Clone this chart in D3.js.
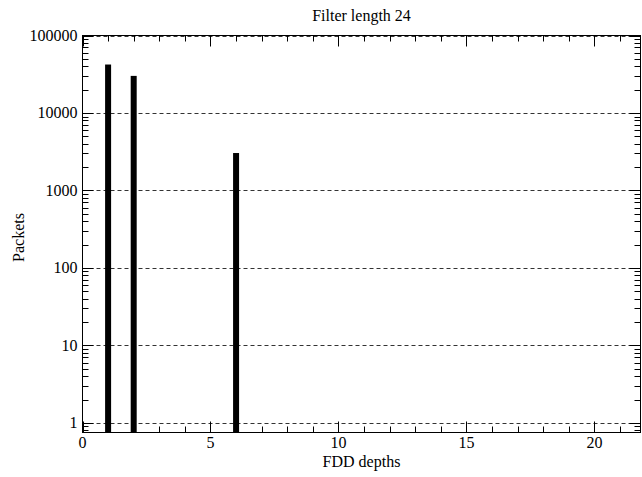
<!DOCTYPE html>
<html>
<head>
<meta charset="utf-8">
<script src="https://cdn.jsdelivr.net/npm/d3@7/dist/d3.min.js"></script>
<style>
  body { margin: 0; background: #fff; }
  svg text { font-family: "Liberation Serif", "Times New Roman", serif; font-size: 16px; fill: #000; }
</style>
</head>
<body>
<svg id="chart" width="642" height="477"></svg>
<script>
// FDD depth histogram, filter length 24
const depths = [1, 2, 6];
const packets = [42200, 30100, 3040];
const xTicks = [0, 5, 10, 15, 20];
const yTicks = [1, 10, 100, 1000, 10000, 100000];
const yTickLabels = ["1", "10", "100", "1000", "10000", "100000"];
const titleText = "Filter length 24";
const xLabel = "FDD depths";
const yLabel = "Packets";

const svg = d3.select("#chart");
const plotL = 82.5, plotR = 640.5, plotT = 35.5, plotB = 432.5;

const x = d3.scaleLinear().domain([0, 21.8]).range([plotL, plotR]);
const y = d3.scaleLog().domain([0.75, 100000]).range([plotB, plotT]);

// dashed decade grid lines
svg.append("g").selectAll("line").data(yTicks).join("line")
  .attr("x1", plotL).attr("x2", plotR)
  .attr("y1", d => Math.round(y(d)) + 0.5).attr("y2", d => Math.round(y(d)) + 0.5)
  .attr("stroke", "#333").attr("stroke-width", 1).attr("stroke-dasharray", "4,3");

// bars
svg.append("g").selectAll("rect").data(depths).join("rect")
  .attr("x", d => x(d) - 3)
  .attr("width", 6)
  .attr("y", (d, i) => y(packets[i]))
  .attr("height", (d, i) => plotB - y(packets[i]))
  .attr("fill", "#000");

// minor/major ticks, pointing inward, mirrored on all sides
const tickG = svg.append("g").attr("stroke", "#000").attr("stroke-width", 1);
const xAll = d3.range(0, 22, 1);
xAll.forEach(v => {
  const len = v % 5 === 0 ? 11 : 6;
  const px = Math.round(x(v)) + 0.5;
  tickG.append("line").attr("x1", px).attr("x2", px).attr("y1", plotB).attr("y2", plotB - len);
  tickG.append("line").attr("x1", px).attr("x2", px).attr("y1", plotT).attr("y2", plotT + len);
});
const yAll = [];
for (let e = -1; e < 5; e++) {
  for (let m = 1; m < 10; m++) {
    const v = m * Math.pow(10, e);
    if (v >= 0.75 && v <= 100000) yAll.push(v);
  }
}
yAll.push(100000);
yAll.forEach(v => {
  const major = yTicks.includes(v);
  const len = major ? 11 : 6;
  const py = Math.round(y(v)) + 0.5;
  tickG.append("line").attr("x1", plotL).attr("x2", plotL + len).attr("y1", py).attr("y2", py);
  tickG.append("line").attr("x1", plotR).attr("x2", plotR - len).attr("y1", py).attr("y2", py);
});

// frame
svg.append("rect").attr("x", plotL).attr("y", plotT)
  .attr("width", plotR - plotL).attr("height", plotB - plotT)
  .attr("fill", "none").attr("stroke", "#000").attr("stroke-width", 1);

// tick labels
svg.append("g").selectAll("text").data(xTicks).join("text")
  .attr("x", d => x(d)).attr("y", 448).attr("text-anchor", "middle").text(d => d);
svg.append("g").selectAll("text").data(yTicks).join("text")
  .attr("x", 77.5).attr("y", d => y(d) + 5.5).attr("text-anchor", "end")
  .text((d, i) => yTickLabels[i]);

// titles
svg.append("text").attr("x", (plotL + plotR) / 2).attr("y", 21).attr("text-anchor", "middle").text(titleText);
svg.append("text").attr("x", (plotL + plotR) / 2).attr("y", 467).attr("text-anchor", "middle").text(xLabel);
svg.append("text").attr("transform", "translate(24, 237.5) rotate(-90)")
  .attr("text-anchor", "middle").text(yLabel);
</script>
</body>
</html>
